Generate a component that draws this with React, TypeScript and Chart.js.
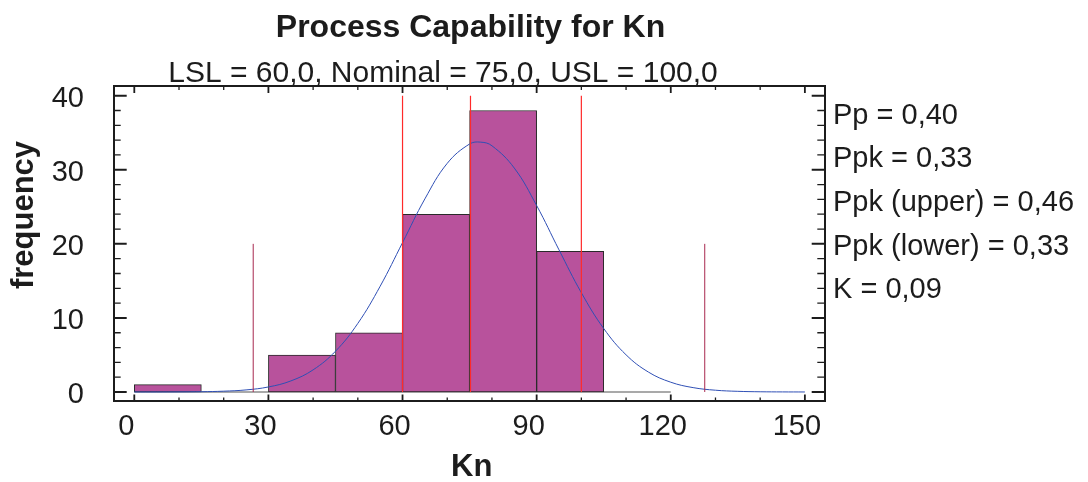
import React, { useEffect, useRef } from 'react';
import { Chart, registerables } from 'chart.js';

Chart.register(...registerables);

// ---------- text ----------
const titleText = 'Process Capability for Kn';
const subtitleText = 'LSL = 60,0, Nominal = 75,0, USL = 100,0';
const xAxisTitle = 'Kn';
const yAxisTitle = 'frequency';
const statsLabels = [
  'Pp = 0,40',
  'Ppk = 0,33',
  'Ppk (upper) = 0,46',
  'Ppk (lower) = 0,33',
  'K = 0,09',
];

// ---------- histogram ----------
const binCenters = [7.5, 37.5, 52.5, 67.5, 82.5, 97.5];
const frequencies = [1, 5, 8, 24, 38, 19];
const zeroLineX = [0, 120];

// ---------- fitted normal curve ----------
const curveX = [0, 5, 10, 15, 20, 25, 30, 35, 40, 45, 50, 55, 60, 65, 70, 75, 77.5, 80, 85, 90, 95, 100, 105, 110, 115, 120, 125, 130, 135, 140, 145, 150];
const curveY = [0.001, 0.004, 0.012, 0.038, 0.11, 0.28, 0.68, 1.49, 2.99, 5.5, 9.26, 14.28, 20.16, 26.07, 30.87, 33.48, 33.73, 33.24, 30.23, 25.17, 19.19, 13.4, 8.57, 5.02, 2.69, 1.32, 0.59, 0.24, 0.09, 0.03, 0.01, 0.003];

// ---------- reference lines ----------
const specLimits = [60, 75.2, 100]; // LSL, Nominal, USL
const specLineTop = 40;
const sigmaLimits = [26.6, 127.6]; // mean -/+ 3 sigma
const sigmaLineTop = 20;

// ---------- axes ----------
const xTicks = [0, 30, 60, 90, 120, 150];
const xMinorTicks = [0, 10, 20, 30, 40, 50, 60, 70, 80, 90, 100, 110, 120, 130, 140, 150];
const yTicks = [0, 10, 20, 30, 40];
const yMinorTicks = [0, 2, 4, 6, 8, 10, 12, 14, 16, 18, 20, 22, 24, 26, 28, 30, 32, 34, 36, 38, 40];
const xRange = [-4.54, 154.5];
const yRange = [-1.216, 41.31];

const FAMILY = "'Liberation Sans', Arial, Helvetica, sans-serif";
const TEXT = '#1c1c1c';

const overlayPlugin = {
  id: 'overlay',
  afterDraw(chart: any) {
    const { ctx, chartArea: a, scales } = chart;
    const xs = scales.x;
    const ys = scales.y;
    ctx.save();

    // frame
    ctx.strokeStyle = '#1c1c1c';
    ctx.lineWidth = 2;
    ctx.strokeRect(a.left, a.top, a.right - a.left, a.bottom - a.top);

    // x ticks (inward, top and bottom)
    xMinorTicks.forEach((v) => {
      const px = xs.getPixelForValue(v);
      const major = xTicks.includes(v);
      ctx.lineWidth = major ? 1.8 : 1.3;
      ctx.beginPath();
      ctx.moveTo(px, a.bottom);
      ctx.lineTo(px, a.bottom - (major ? 6.5 : 3.5));
      ctx.moveTo(px, a.top);
      ctx.lineTo(px, a.top + (major ? 7 : 4));
      ctx.stroke();
    });
    // y ticks (inward, left and right)
    yMinorTicks.forEach((v) => {
      const py = ys.getPixelForValue(v);
      const major = yTicks.includes(v);
      ctx.lineWidth = major ? 2 : 1.3;
      ctx.beginPath();
      ctx.moveTo(a.left, py);
      ctx.lineTo(a.left + (major ? 12.7 : 6.7), py);
      ctx.moveTo(a.right, py);
      ctx.lineTo(a.right - (major ? 13.3 : 7.7), py);
      ctx.stroke();
    });

    // texts
    ctx.fillStyle = TEXT;
    ctx.textBaseline = 'alphabetic';
    ctx.textAlign = 'center';
    ctx.font = `bold 32px ${FAMILY}`;
    ctx.fillText(titleText, (a.left + a.right) / 2 + 1, 36.7);
    ctx.font = `bold 31px ${FAMILY}`;
    ctx.fillText(xAxisTitle, 471.7, 475.7);

    ctx.font = `30px ${FAMILY}`;
    ctx.fillText(subtitleText, 443, 81.7);

    ctx.save();
    ctx.translate(32.6, 215);
    ctx.rotate(-Math.PI / 2);
    ctx.font = `bold 31px ${FAMILY}`;
    ctx.textAlign = 'center';
    ctx.fillText(yAxisTitle, 0, 0);
    ctx.restore();

    ctx.font = `29px ${FAMILY}`;
    ctx.textAlign = 'left';
    statsLabels.forEach((s, i) => {
      ctx.fillText(s, 833, 123.5 + i * 43.7);
    });

    ctx.restore();
  },
};

export default function App() {
  const ref = useRef<HTMLCanvasElement>(null);

  useEffect(() => {
    const canvas = ref.current;
    if (!canvas) return;

    const specSets = specLimits.map((v) => ({
      type: 'line',
      data: [
        { x: v, y: 0 },
        { x: v, y: specLineTop },
      ],
      borderColor: '#ff2a2a',
      borderWidth: 1.2,
      pointRadius: 0,
      order: 0,
    }));
    const sigmaSets = sigmaLimits.map((v) => ({
      type: 'line',
      data: [
        { x: v, y: 0 },
        { x: v, y: sigmaLineTop },
      ],
      borderColor: '#a8284f',
      borderWidth: 1,
      pointRadius: 0,
      order: 0,
    }));

    const chart = new Chart(canvas, {
      type: 'bar',
      data: {
        datasets: [
          ...specSets,
          ...sigmaSets,
          {
            type: 'line',
            data: curveX.map((x, i) => ({ x, y: curveY[i] })),
            borderColor: '#2f4fb5',
            borderWidth: 1,
            pointRadius: 0,
            tension: 0.4,
            order: 1,
          },
          {
            type: 'bar',
            data: binCenters.map((x, i) => ({ x, y: frequencies[i] })),
            backgroundColor: '#b8529c',
            borderColor: '#2a2a2a',
            borderWidth: 1,
            borderSkipped: false,
            barPercentage: 1,
            categoryPercentage: 1,
            order: 2,
          },
          {
            type: 'line',
            data: zeroLineX.map((x) => ({ x, y: 0 })),
            borderColor: '#8c8c8c',
            borderWidth: 1.5,
            pointRadius: 0,
            order: 3,
          },
        ] as any,
      },
      options: {
        animation: false,
        responsive: true,
        maintainAspectRatio: false,
        layout: { padding: { top: 86, right: 263, left: 0, bottom: 0 } },
        plugins: {
          legend: { display: false },
          tooltip: { enabled: false },
          title: { display: false },
        },
        scales: {
          x: {
            type: 'linear',
            min: xRange[0],
            max: xRange[1],
            offset: false,
            grid: { display: false, drawTicks: false, offset: false },
            border: { display: false },
            afterBuildTicks: (s: any) => {
              s.ticks = xTicks.map((v) => ({ value: v }));
            },
            afterFit: (s: any) => {
              s.height = 81;
            },
            ticks: {
              font: { family: FAMILY, size: 29 },
              color: TEXT,
              padding: 9,
              labelOffset: -8,
              maxRotation: 0,
              autoSkip: false,
              callback: (v: any) => String(v),
            },
          },
          y: {
            type: 'linear',
            min: yRange[0],
            max: yRange[1],
            grid: { display: false, drawTicks: false },
            border: { display: false },
            afterBuildTicks: (s: any) => {
              s.ticks = yTicks.map((v) => ({ value: v }));
            },
            afterFit: (s: any) => {
              s.width = 114;
            },
            ticks: {
              font: { family: FAMILY, size: 29 },
              color: TEXT,
              padding: 30,
              labelOffset: 3,
              autoSkip: false,
              callback: (v: any) => String(v),
            },
          },
        },
      } as any,
      plugins: [overlayPlugin],
    });

    return () => chart.destroy();
  }, []);

  return (
    <div
      style={{
        position: 'fixed',
        left: 0,
        top: 0,
        width: 1088,
        height: 482,
        background: '#ffffff',
      }}
    >
      <canvas ref={ref} />
    </div>
  );
}
